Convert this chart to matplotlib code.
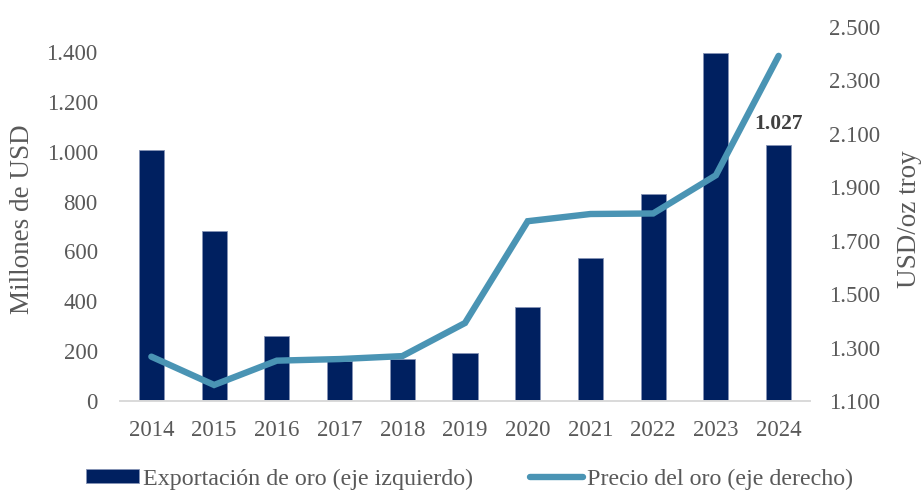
import matplotlib.pyplot as plt
import numpy as np
from matplotlib.ticker import FuncFormatter

plt.rcParams['font.family'] = ['Liberation Serif', 'DejaVu Serif']

years = ['2014', '2015', '2016', '2017', '2018', '2019', '2020', '2021', '2022', '2023', '2024']
exports = [1005, 683, 261, 160, 168, 191, 378, 573, 829, 1394, 1027]
gold_price = [1266, 1160, 1251, 1257, 1268, 1392, 1773, 1800, 1802, 1945, 2392]

bar_color = '#002060'
line_color = '#4a94b4'
text_gray = '#595959'


def miles(v, pos):
    # Spanish style thousands separator
    return f'{int(v):,}'.replace(',', '.')


fig = plt.figure(figsize=(9.24, 4.94), dpi=100)
ax = fig.add_axes([120 / 924, 93 / 494, 690 / 924, 374 / 494])
x = np.arange(len(years))

bars = ax.bar(x, exports, width=0.4, color=bar_color, edgecolor='#8593b5', linewidth=0.6,
              label='Exportación de oro (eje izquierdo)')
ax.set_xlim(-0.5, len(years) - 0.5)
ax.set_ylim(0, 1500)
ax.set_yticks(np.arange(0, 1401, 200))
ax.yaxis.set_major_formatter(FuncFormatter(miles))
ax.set_xticks(x)
ax.set_xticklabels(years)

# label only on the last bar
ax.text(x[-1], exports[-1] + 45, miles(exports[-1], None), ha='center', va='bottom',
        fontsize=15.5, fontweight='bold', color='#404040')

ax2 = ax.twinx()
ax2.plot(x, gold_price, color=line_color, linewidth=4.6, solid_capstyle='round',
         solid_joinstyle='miter', label='Precio del oro (eje derecho)')
ax2.set_ylim(1100, 2500)
ax2.set_yticks(np.arange(1100, 2501, 200))
ax2.yaxis.set_major_formatter(FuncFormatter(miles))

# axis titles placed by hand like the original
fig.text(23 / 924, 1 - 219 / 494, 'Millones de USD', rotation=90, ha='center', va='center',
         fontsize=19.5, color=text_gray)
fig.text(909 / 924, 1 - 219 / 494, 'USD/oz troy', rotation=90, ha='center', va='center',
         fontsize=19.5, color=text_gray)

for a in (ax, ax2):
    for side in ('top', 'left', 'right'):
        a.spines[side].set_visible(False)
    a.spines['bottom'].set_color('#d9d9d9')
    a.spines['bottom'].set_linewidth(1.2)
    a.tick_params(length=0, labelsize=16.5, labelcolor=text_gray)
ax.tick_params(axis='y', pad=16)
ax.tick_params(axis='x', pad=14)
ax2.tick_params(axis='y', pad=14)

h1, l1 = ax.get_legend_handles_labels()
h2, l2 = ax2.get_legend_handles_labels()
fig.legend(h1 + h2, l1 + l2, loc='lower center', bbox_to_anchor=(0.508, -0.035), ncol=2,
           frameon=False, fontsize=17.3, labelcolor=text_gray, handlelength=2.2,
           handleheight=0.5, handletextpad=0.15, columnspacing=2.4)

fig.savefig('out.png', dpi=100)
